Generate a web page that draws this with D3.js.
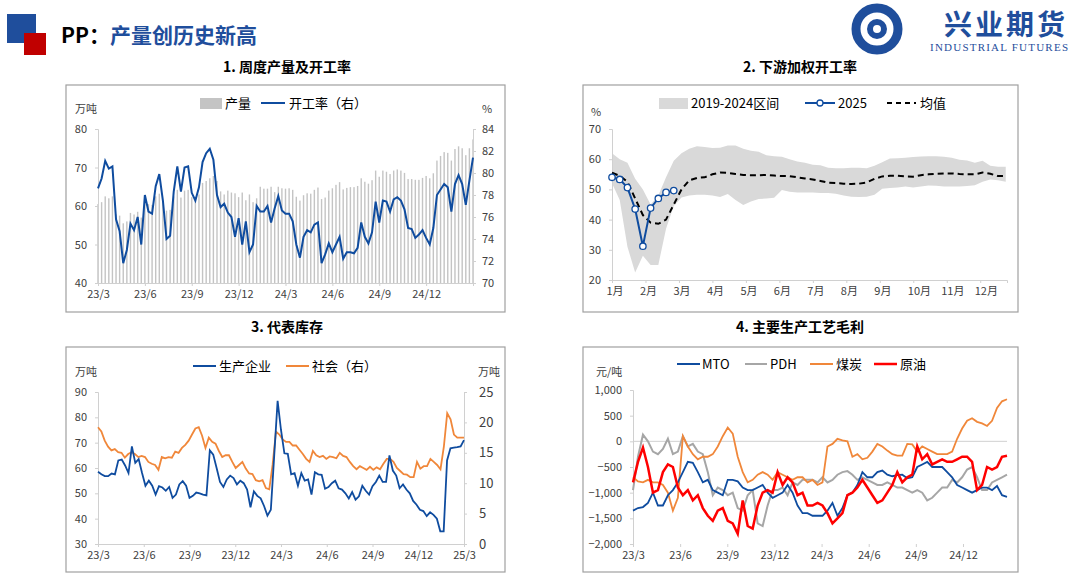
<!DOCTYPE html>
<html><head><meta charset="utf-8">
<script src="https://cdn.jsdelivr.net/npm/d3@7"></script>
<style>
body{margin:0;background:#fff;}
svg text{font-family:"Noto Sans CJK SC","Noto Sans",sans-serif;}
</style></head>
<body><svg id="c" width="1080" height="577"></svg>
<script>
// --- data ---
const p1Ticks = ["23/3","23/6","23/9","23/12","24/3","24/6","24/9","24/12"];
const p1Rate = [78.6,79.5,81.1,80.4,80.6,75.8,74.7,71.8,73,75.4,74.8,76,73.5,78,76.5,76.3,78.8,79.9,77.5,74,
74.3,78.3,80.6,78.3,80.5,80.6,78.2,77.5,78.7,81,81.8,82.2,81.2,78,76.9,77.2,76.4,76,74.2,75.9,
73.5,75.6,72.8,73.5,77,76.5,76.5,77,75.5,76.8,77.9,76.6,76.3,76.3,75.6,73.5,72.3,74.2,74.8,74.6,
75.3,75.5,71.8,72.6,73.6,72.8,73.5,74.2,72.2,72.8,72.8,72.7,73.2,75.5,74.2,73.6,74.6,77.4,75.5,77.5,
77.4,76.5,77.6,77.8,77.5,76.7,75,74.9,74.1,74.4,74.8,74.1,73.5,75,78,78.5,79,78.7,76.5,79,
79.8,79,77.1,79.3,81.4];
const p1Prod = [60.5,61,62.5,62,62.5,57.8,57.5,55.5,56,58.2,57.8,58.5,57,62,60.5,60.3,62.5,63.2,61.3,58.8,
59,62.5,64.2,62.2,64,64.2,62.3,62,63,66,66.5,67.2,67.8,66.5,63.8,63,64,63.5,63.3,62.3,
63.5,61.5,63,61,62,65,64.5,64.5,65,63.6,65,64.6,64.5,64.6,64.2,62.4,61.4,62.8,63.3,63.2,
64.2,64.8,61.8,62.2,64,64.6,65.5,66.2,64.3,64.7,64.9,64.9,65.2,67.2,66.3,65.8,66.7,69.2,67.6,69.2,
68.9,68.3,69.2,69.5,69.2,68.6,67,67,66.8,66.8,67.3,67.8,67.2,68.5,71.8,73,74,73.8,71.8,74.8,
75.5,75,73.2,75,77.3];

const p2Months = ["1月","2月","3月","4月","5月","6月","7月","8月","9月","10月","11月","12月"];
const p2Upper = [62,60,58.8,53.5,50,45,48,54,59.5,62,63.5,64.3,64,63.7,63.8,64.5,64.5,63.5,62.8,62.5,
61.3,61,60.8,60,59.2,58.8,58.2,58,57.2,57,57,57.2,57.2,57,57.8,59,60.2,60.3,60.5,60.7,
60.9,61,61,60.8,60.5,59.8,59.6,58.8,59.5,57.8,57.5,57.5];
const p2Lower = [52,46.5,31,22.5,28,25,25,37,44.5,47.3,48,48.2,48.2,48,47.5,48.5,46.5,44.8,46,46.8,
47,47.2,49.8,49.2,49,49,49,48.8,48.8,48.6,48,47.6,47.5,47.6,48.2,50.2,50.5,50.6,51,50.6,
51,51.3,51.2,51,51,51,51.1,51.4,52.5,53.3,53,52.5];
const p2Mean = [55.5,54.5,52.5,47,41.5,39,38.6,40,45,50,53,53.8,54,55,55.6,55.5,55.1,54.8,54.7,54.7,
54.8,54.6,54.4,54.4,54,53.6,53.3,52.8,52.2,52.1,51.9,51.8,51.9,52.3,53.5,54.3,54.5,54.5,54.3,54.2,
54.7,55,55.2,55.3,55.3,55.1,55,55,55.6,55.2,54.4,54.4];
const p2Y2025 = [54,53.3,50.6,43.5,31.2,43.8,47,49,49.6];

const p3Ticks = ["23/3","23/6","23/9","23/12","24/3","24/6","24/9","24/12","25/3"];
const p3Producer = [58.5,57.5,56.8,56.8,57.8,57.5,63,63.3,61,58,68.5,62,63.5,58,53,55,53,49.5,52.8,52.3,
51,52.5,48.2,49.5,53.5,54.8,53,48.2,49,50.3,50,49.5,49.2,67,65.3,60,54.5,52.5,55.5,57,
56,53.5,55,54,51.5,44.5,50.8,49,48,45,41.2,43.5,65,86.5,75,65.8,65.6,57.5,58,53,
58,55,55.5,49.5,58.3,57.5,57.3,51.8,52.5,54,55,52,51.5,50,48,50.5,47.5,48.8,53,51,
49.5,52.8,54.5,57,54.5,54.5,65,59,57,52,53.5,51.5,50,47,45.5,43.5,43,41,42.5,41.5,
40,35,35,63,67.8,68,68.2,68.5,71];
const p3Social = [19.2,18.5,17,16,15.4,15.6,15.1,15,14.2,14.8,15.1,14.8,14.3,14.5,14.3,13.5,13.2,13,12.2,14.3,
14.1,14.3,14.2,15.2,15,15.8,16.3,17,18,19,19.2,17.8,15.8,17.5,16.8,16.5,15.3,14.3,14.6,14.6,
13.5,12.5,13,13.5,12.4,11.6,11.5,10.5,10.3,10.5,9.2,9,13,18.5,18,17.2,16.8,16.8,16.2,16.2,
15.5,14.8,14,13.5,15.3,14.6,14.3,14.5,14,14.4,14.3,14.1,15,14.5,14.3,13.5,12.8,12.3,12.8,12.5,
12.2,12.7,12.2,12.6,12.3,13.2,14,14,13.5,12.5,12,11.5,11.4,11,11,13.5,12.4,12.8,12.8,14,
13.5,13,12.3,16,21.5,20.5,18,17.5,17.5,17.5];

const p4Ticks = ["23/3","23/6","23/9","23/12","24/3","24/6","24/9","24/12"];
const p4MTO = [-1350,-1300,-1280,-1200,-1000,-1250,-1250,-1050,-950,-800,-600,-400,-420,-600,-800,-750,-950,-1000,-1050,-750,
-750,-780,-900,-950,-950,-900,-850,-1000,-1100,-1050,-1000,-850,-1000,-1250,-1400,-1400,-1450,-1450,-1450,-1350,
-1200,-1450,-1300,-1050,-1000,-850,-600,-700,-700,-600,-570,-650,-680,-660,-650,-720,-700,-500,-450,-400,
-500,-500,-500,-600,-700,-850,-900,-950,-1000,-950,-900,-900,-950,-870,-1050,-1080];
const p4PDH = [-950,-300,130,0,-200,-250,-150,50,-250,-200,100,-100,-50,-200,-250,-600,-1050,-900,-950,-1050,
-1000,-1300,-1350,-1050,-950,-1600,-1650,-1250,-950,-950,-900,-1050,-800,-850,-750,-750,-750,-800,-700,-800,
-750,-650,-600,-580,-650,-750,-700,-750,-800,-850,-850,-800,-850,-900,-900,-950,-1000,-950,-1000,-1150,
-1100,-1000,-900,-900,-750,-800,-700,-550,-500,-700,-950,-950,-800,-750,-700,-650];
const p4Coal = [-700,-780,-800,-750,-800,-800,-850,-1000,-1350,-1100,100,-100,-250,-350,-300,-300,-250,-100,100,270,
150,-300,-600,-800,-750,-650,-600,-650,-750,-600,-650,-700,-750,-700,-700,-800,-750,-850,-800,-100,
-50,50,20,0,-300,-250,-350,-320,-200,-50,-100,-180,-250,-280,-280,-50,-60,-200,-100,-150,
-200,-250,-250,-250,-200,50,250,400,450,380,350,300,400,650,780,820];
const p4Crude = [-800,-400,-120,-500,-1000,-950,-600,-450,-500,-900,-1050,-950,-1150,-1050,-1300,-1450,-1550,-1350,-1300,-1550,
-1600,-1800,-1150,-1650,-1700,-1250,-1000,-950,-1000,-600,-850,-700,-800,-1050,-1000,-1250,-1250,-1200,-1250,-1400,
-1600,-1500,-1400,-1050,-1000,-900,-750,-900,-1050,-1200,-1150,-1000,-850,-600,-800,-700,-650,-100,-350,-250,
-450,-400,-350,-400,-400,-350,-300,-300,-400,-950,-850,-500,-550,-500,-300,-280];

// --- colours ---
const BLUE = "#0f4c9f", ORANGE = "#f0873a", GREY = "#a6a6a6", RED = "#ff0000", TXT = "#404040", AX = "#d0d0d0";

const svg = d3.select("#c");

// --- header ---
svg.append("rect").attr("x",7).attr("y",14).attr("width",29).attr("height",29).attr("fill","#1f4e9c");
svg.append("rect").attr("x",24).attr("y",33).attr("width",22).attr("height",22).attr("fill","#c00000");
const ht = svg.append("text").attr("x",61).attr("y",43).attr("font-size",21).attr("font-weight","bold");
ht.append("tspan").attr("fill","#000").text("PP：");
ht.append("tspan").attr("fill","#1f4e9c").text("产量创历史新高");
// logo
svg.append("circle").attr("cx",877).attr("cy",29).attr("r",21).attr("fill","none").attr("stroke","#1f4e9c").attr("stroke-width",9);
svg.append("circle").attr("cx",877).attr("cy",29).attr("r",7).attr("fill","none").attr("stroke","#1f4e9c").attr("stroke-width",6);
svg.append("text").attr("x",1068).attr("y",35).attr("text-anchor","end").attr("font-size",28).attr("font-weight","bold")
  .attr("fill","#1f4e9c").attr("letter-spacing",3).text("兴业期货");
svg.append("text").attr("x",930).attr("y",51).attr("font-size",11).attr("textLength",138)
  .attr("fill","#1f4e9c").style("font-family","'Liberation Serif',serif").text("INDUSTRIAL FUTURES");

// --- panel frames & titles ---
const frames = [[66,85,439,227,"1. 周度产量及开工率",287,72],[583,85,435,227,"2. 下游加权开工率",800,72],
  [66,347,439,225,"3. 代表库存",287,332],[583,347,435,225,"4. 主要生产工艺毛利",800,332]];
frames.forEach(f => {
  svg.append("rect").attr("x",f[0]).attr("y",f[1]).attr("width",f[2]).attr("height",f[3])
    .attr("fill","none").attr("stroke","#a0a0a0").attr("stroke-width",1.2);
  svg.append("text").attr("x",f[5]).attr("y",f[6]).attr("text-anchor","middle").attr("font-size",14)
    .attr("font-weight","bold").attr("fill","#000").text(f[4]);
});

// --- helpers ---
function styleAxis(g, fs) {
  g.selectAll(".domain").attr("stroke",AX);
  g.selectAll(".tick line").attr("stroke",AX);
  g.selectAll("text").attr("fill",TXT).attr("font-size",fs || 11);
}
function yAxis(scale, x, side, ticks, fmt, fs, pad) {
  const ax = (side === "left" ? d3.axisLeft(scale) : d3.axisRight(scale))
    .tickValues(ticks).tickSize(3).tickPadding(pad || (side === "left" ? 8 : 6)).tickFormat(fmt || (d => d));
  const g = svg.append("g").attr("transform",`translate(${x},0)`).call(ax);
  styleAxis(g, fs);
  return g;
}
function xAxis(scale, y, vals, labels) {
  const g = svg.append("g").attr("transform",`translate(0,${y})`)
    .call(d3.axisBottom(scale).tickValues(vals).tickSize(3).tickPadding(4).tickFormat((d,i) => labels[i]));
  styleAxis(g, 11);
  return g;
}
function label(x, y, t, anchor, fs) {
  svg.append("text").attr("x",x).attr("y",y).attr("text-anchor",anchor || "start")
    .attr("font-size",fs || 11).attr("fill",TXT).text(t);
}
function legLine(x1, x2, y, color, w, dash) {
  svg.append("line").attr("x1",x1).attr("x2",x2).attr("y1",y).attr("y2",y)
    .attr("stroke",color).attr("stroke-width",w).attr("stroke-dasharray",dash || null);
}
function legText(x, y, t) {
  svg.append("text").attr("x",x).attr("y",y+4.5).attr("font-size",13).attr("fill","#000").text(t);
}

// --- panel 1 ---
{
  const x = d3.scaleLinear([0,24],[98,473]);
  const yL = d3.scaleLinear([40,80],[283,129]);
  const yR = d3.scaleLinear([70,84],[283,129]);
  const xi = i => x(i * 24 / (p1Rate.length - 1));
  svg.append("g").selectAll("rect").data(p1Prod).join("rect")
    .attr("x",(d,i) => xi(i) - 0.7).attr("width",1.4)
    .attr("y",d => yL(d)).attr("height",d => yL(40) - yL(d)).attr("fill","#c4c4c4");
  yAxis(yL, 98, "left", [40,50,60,70,80]);
  yAxis(yR, 473, "right", [70,72,74,76,78,80,82,84]);
  xAxis(x, 283, [0,3,6,9,12,15,18,21], p1Ticks);
  svg.append("path").datum(p1Rate).attr("fill","none").attr("stroke",BLUE).attr("stroke-width",2)
    .attr("d", d3.line().x((d,i) => xi(i)).y(d => yR(d)));
  label(75,113,"万吨"); label(482,113,"%");
  svg.append("rect").attr("x",200).attr("y",98).attr("width",22).attr("height",11).attr("fill","#c4c4c4");
  legText(225,103,"产量");
  legLine(261,285,103,BLUE,2); legText(289,103,"开工率（右）");
}

// --- panel 2 ---
{
  const x = d3.scaleLinear([0,11],[612,980]);
  const y = d3.scaleLinear([20,70],[280,129]);
  const xw = i => x(i * 12 / 52);
  svg.append("path").datum(p2Upper).attr("fill","#d9d9d9")
    .attr("d", d3.area().x((d,i) => xw(i)).y0((d,i) => y(p2Lower[i])).y1(d => y(d)));
  yAxis(y, 612, "left", [20,30,40,50,60,70]);
  const gx = svg.append("g").attr("transform","translate(0,280)")
    .call(d3.axisBottom(d3.scaleLinear([0,11.8],[612,1007])).tickValues(d3.range(12)).tickSize(3).tickPadding(4)
      .tickFormat((d,i) => p2Months[i]));
  styleAxis(gx, 11);
  gx.selectAll(".tick text").attr("text-anchor","start").attr("dx",-6);
  svg.append("path").datum(p2Mean).attr("fill","none").attr("stroke","#000").attr("stroke-width",2)
    .attr("stroke-dasharray","6,4").attr("d", d3.line().x((d,i) => xw(i)).y(d => y(d)));
  svg.append("path").datum(p2Y2025).attr("fill","none").attr("stroke",BLUE).attr("stroke-width",2)
    .attr("d", d3.line().x((d,i) => xw(i)).y(d => y(d)));
  svg.append("g").selectAll("circle").data(p2Y2025).join("circle")
    .attr("cx",(d,i) => xw(i)).attr("cy",d => y(d)).attr("r",3.2)
    .attr("fill","#fff").attr("stroke",BLUE).attr("stroke-width",1.3);
  label(591,116,"%");
  svg.append("rect").attr("x",659).attr("y",98).attr("width",29).attr("height",11).attr("fill","#d9d9d9");
  legText(691,103,"2019-2024区间");
  legLine(805,835,103,BLUE,2);
  svg.append("circle").attr("cx",820).attr("cy",103).attr("r",3).attr("fill","#fff").attr("stroke",BLUE).attr("stroke-width",1.3);
  legText(838,103,"2025");
  legLine(887,916,103,"#000",2,"5,4"); legText(920,103,"均值");
}

// --- panel 3 ---
{
  const x = d3.scaleLinear([0,24],[98,464]);
  const yL = d3.scaleLinear([30,90],[544,392]);
  const yR = d3.scaleLinear([0,25],[544,392]);
  yAxis(yL, 98, "left", [30,40,50,60,70,80,90]);
  yAxis(yR, 464, "right", [0,5,10,15,20,25], null, 13, 12);
  xAxis(x, 544, [0,3,6,9,12,15,18,21,24], p3Ticks);
  svg.append("path").datum(p3Social).attr("fill","none").attr("stroke",ORANGE).attr("stroke-width",1.8)
    .attr("d", d3.line().x((d,i) => x(i * 24 / (p3Social.length - 1))).y(d => yR(d)));
  svg.append("path").datum(p3Producer).attr("fill","none").attr("stroke",BLUE).attr("stroke-width",1.8)
    .attr("d", d3.line().x((d,i) => x(i * 24 / (p3Producer.length - 1))).y(d => yL(d)));
  label(75,376,"万吨"); label(478,376,"万吨");
  legLine(193,216,366,BLUE,2); legText(219,366,"生产企业");
  legLine(286,309,366,ORANGE,2); legText(312,366,"社会（右）");
}

// --- panel 4 ---
{
  const x = d3.scaleLinear([0,23.8],[633,1007]);
  const y = d3.scaleLinear([-2000,1000],[544,390]);
  yAxis(y, 633, "left", [-2000,-1500,-1000,-500,0,500,1000], d3.format(","));
  svg.append("line").attr("x1",633).attr("x2",1007).attr("y1",y(0)).attr("y2",y(0)).attr("stroke",AX);
  xAxis(x, 544, [0,3,6,9,12,15,18,21], p4Ticks).select(".domain").attr("stroke","none");
  const series = [[p4PDH,GREY,2],[p4Coal,ORANGE,1.8],[p4MTO,BLUE,1.8],[p4Crude,RED,2.5]];
  series.forEach(s => {
    svg.append("path").datum(s[0]).attr("fill","none").attr("stroke",s[1]).attr("stroke-width",s[2])
      .attr("d", d3.line().x((d,i) => x(i * 23.8 / (s[0].length - 1))).y(d => y(d)));
  });
  label(596,376,"元/吨");
  legLine(677,700,364,BLUE,2); legText(702,364,"MTO");
  legLine(745,767,364,GREY,2); legText(770,364,"PDH");
  legLine(810,833,364,ORANGE,2); legText(836,364,"煤炭");
  legLine(874,897,364,RED,2.5); legText(900,364,"原油");
}
</script></body></html>
